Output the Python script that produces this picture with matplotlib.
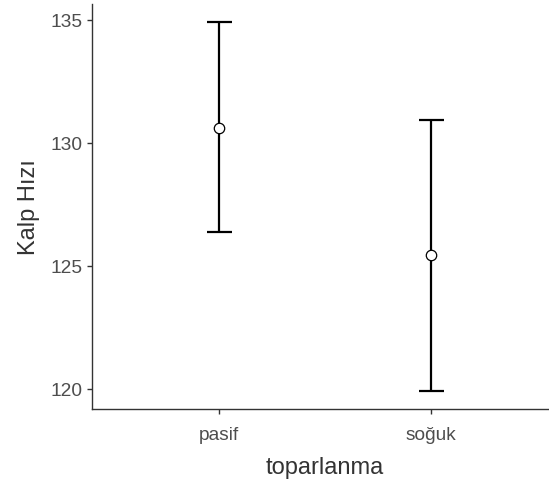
import matplotlib.pyplot as plt
import numpy as np

plt.rcParams['font.family'] = ['Liberation Sans', 'DejaVu Sans']

groups = ['pasif', 'soğuk']
means = [130.6, 125.43]
lower = [126.36, 119.92]
upper = [134.88, 130.9]

fig = plt.figure(figsize=(5.49, 4.85), dpi=100)
ax = fig.add_axes([0.1676, 0.1546, 0.849, 0.835])

x = np.arange(1, len(groups) + 1)
m = np.array(means)
yerr = [m - np.array(lower), np.array(upper) - m]
ax.errorbar(x, m, yerr=yerr, fmt='none', ecolor='black', elinewidth=1.6,
            capsize=9, capthick=1.6, zorder=2)
ax.plot(x, m, 'o', ms=7.5, mfc='white', mec='black', mew=0.9, zorder=3)

ax.set_xlim(0.4, 2.6)
ax.set_ylim(119.17, 135.63)
ax.set_xticks(x)
ax.set_xticklabels(groups)
ax.set_yticks([120, 125, 130, 135])

for s in ['top', 'right']:
    ax.spines[s].set_visible(False)
for s in ['left', 'bottom']:
    ax.spines[s].set_color('#333333')
    ax.spines[s].set_linewidth(1.0)
ax.tick_params(colors='#333333', labelcolor='#4d4d4d', labelsize=13.8,
               length=3.5, width=1.0, pad=3)
ax.tick_params(axis='x', pad=9)
ax.set_xlabel('toparlanma', fontsize=17, color='#333333', labelpad=9)
ax.set_ylabel('Kalp Hızı', fontsize=17, color='#333333', labelpad=8)

fig.savefig('out.png', dpi=100)
